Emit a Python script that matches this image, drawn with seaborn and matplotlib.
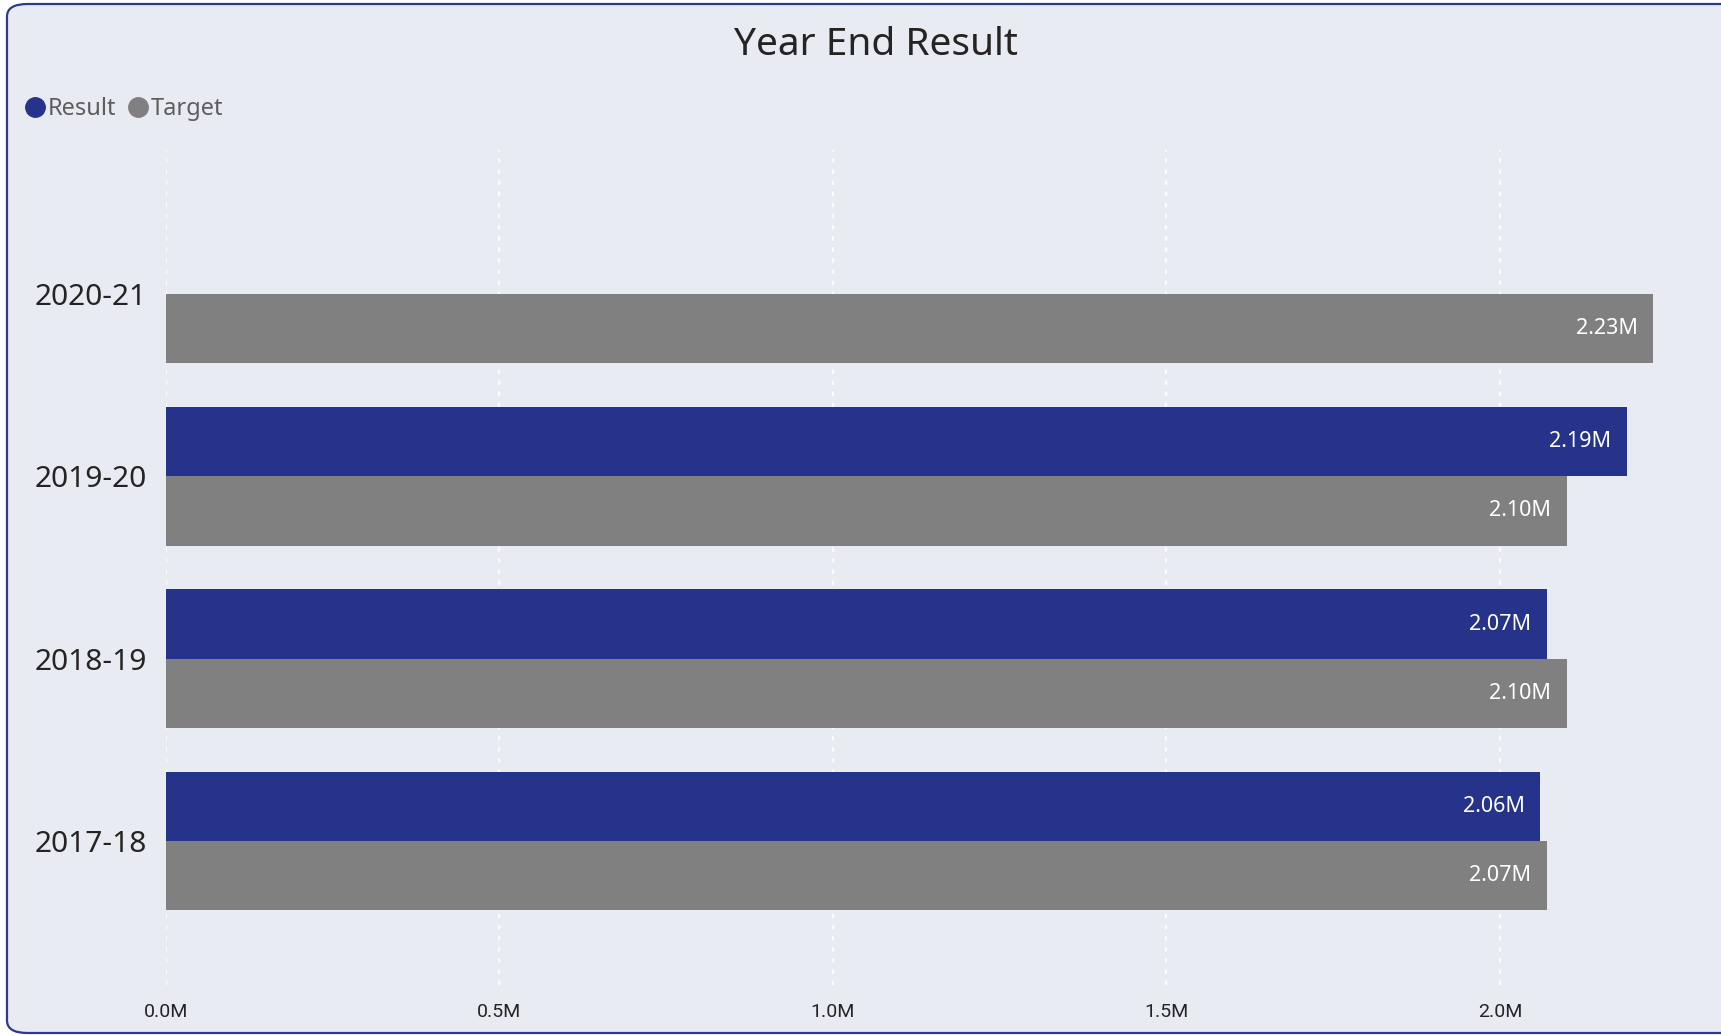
import matplotlib
matplotlib.use('Agg')
import matplotlib.pyplot as plt
from matplotlib.lines import Line2D
from matplotlib.patches import FancyBboxPatch
import seaborn as sns
import pandas as pd

# values in millions
years=['2020-21','2019-20','2018-19','2017-18']
result=[None,2.19,2.07,2.06]
target=[2.23,2.10,2.10,2.07]
xticks=[0.0,0.5,1.0,1.5,2.0]
xtick_labels=['0.0M','0.5M','1.0M','1.5M','2.0M']

BG='#E9EBF3'
NAVY='#26338A'
GREY='#808080'
DARK='#252423'

rows=[]
for y,r,t in zip(years,result,target):
    if r is not None:
        rows.append({'Year':y,'Measure':'Result','Value':r})
    rows.append({'Year':y,'Measure':'Target','Value':t})
df=pd.DataFrame(rows)

sns.set_style('white')
plt.rcParams['font.family']=['Noto Sans','DejaVu Sans']

W,H=1721,1036
fig=plt.figure(figsize=(W/100,H/100),dpi=100,facecolor='white')

# rounded panel border
panel=FancyBboxPatch((7/W,3/H),(1760-7)/W,(1032-3)/H,
                     boxstyle='round,pad=0,rounding_size=0.012',
                     transform=fig.transFigure,facecolor=BG,edgecolor='#2E3A8F',
                     linewidth=1.6,zorder=-10)
fig.patches.append(panel)

ax=fig.add_axes([166/W,1-985/H,1534/W,835/H])
ax.set_facecolor('none')

sns.barplot(data=df,y='Year',x='Value',hue='Measure',order=years,
            hue_order=['Result','Target'],palette=[NAVY,GREY],
            width=0.76,orient='h',saturation=1,linewidth=0,
            legend=False,ax=ax)

ax.set_xlim(0,2.3)
ax.set_ylim(3.79,-0.79)
ax.set_xticks(xticks)
ax.set_xticklabels(xtick_labels,fontsize=14,color=DARK,family=['Roboto','DejaVu Sans'])
ax.tick_params(axis='x',length=0,pad=13)
ax.tick_params(axis='y',length=0,pad=14,labelsize=21.5,labelcolor=DARK)
ax.set_xlabel('')
ax.set_ylabel('')
for s in ax.spines.values():
    s.set_visible(False)
ax.grid(axis='x',color='white',linestyle=(0,(2,3)),linewidth=1.6,alpha=0.85,zorder=0)
ax.set_axisbelow(True)

for cont in ax.containers:
    for p in cont.patches:
        w=p.get_width()
        yc=p.get_y()+p.get_height()/2
        ax.annotate(f'{w:.2f}M',xy=(w,yc),xytext=(-11,0),textcoords='offset points',
                    ha='right',va='center',color='white',fontsize=15.5)

fig.text(876/W,1-45/H,'Year End Result',ha='center',va='center',fontsize=28,color=DARK)

handles=[Line2D([],[],marker='o',linestyle='',markersize=14,color=NAVY),
         Line2D([],[],marker='o',linestyle='',markersize=14,color=GREY)]
fig.legend(handles,['Result','Target'],loc='center left',bbox_to_anchor=(23/W,1-109/H),
           ncol=2,frameon=False,fontsize=17,handletextpad=0.05,columnspacing=0.4,
           handlelength=1.0,labelcolor='#605E5C',borderaxespad=0,borderpad=0)

fig.savefig('out.png',dpi=100,facecolor='white')
